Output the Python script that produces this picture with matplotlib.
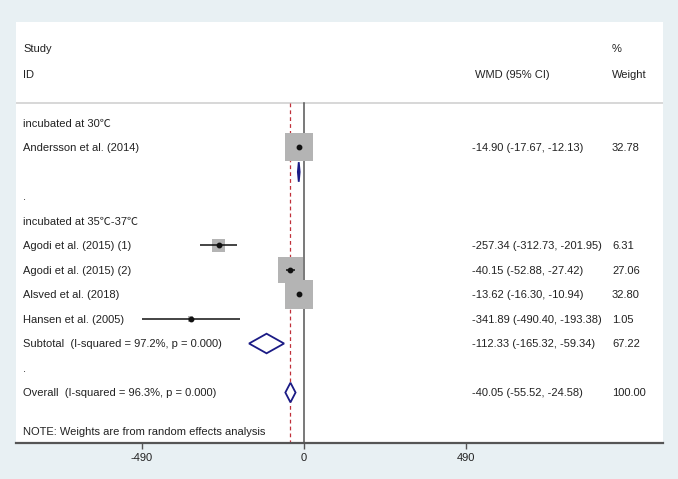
import matplotlib
matplotlib.use("Agg")
import matplotlib.pyplot as plt
import matplotlib.transforms as mtransforms
from matplotlib.patches import Polygon

plt.rcParams['font.family'] = ['Liberation Sans', 'Noto Sans CJK SC', 'DejaVu Sans']

# ---- data ----
group_labels = ["incubated at 30\u2103", "incubated at 35\u2103-37\u2103"]
studies = ["Andersson et al. (2014)", "Agodi et al. (2015) (1)", "Agodi et al. (2015) (2)",
           "Alsved et al. (2018)", "Hansen et al. (2005)"]
study_rows = [1, 5, 6, 7, 8]
wmd = [-14.90, -257.34, -40.15, -13.62, -341.89]
ci_lo = [-17.67, -312.73, -52.88, -16.30, -490.40]
ci_hi = [-12.13, -201.95, -27.42, -10.94, -193.38]
weights = [32.78, 6.31, 27.06, 32.80, 1.05]

# pooled estimates: subtotal 1, subtotal 2, overall
pooled_rows = [2, 9, 11]
pooled_est = [-14.90, -112.33, -40.05]
pooled_lo = [-17.67, -165.32, -55.52]
pooled_hi = [-12.13, -59.34, -24.58]
pooled_labels = ["", "Subtotal  (I-squared = 97.2%, p = 0.000)", "Overall  (I-squared = 96.3%, p = 0.000)"]
pooled_text = ["", "-112.33 (-165.32, -59.34)", "-40.05 (-55.52, -24.58)"]
pooled_weight = ["", "67.22", "100.00"]

overall_est = -40.05
xticks = [-490, 0, 490]

# ---- figure ----
W, H = 678, 479
fig = plt.figure(figsize=(W / 100, H / 100), dpi=100)
fig.patch.set_facecolor('#e8f0f3')
ax = fig.add_axes([16 / W, (H - 443) / H, 647 / W, 421 / H])
ax.set_facecolor('white')
ax.set_xlim(-870.2, 1086.8)
ax.set_ylim(13.06, -4.12)

for s in ['top', 'left', 'right']:
    ax.spines[s].set_visible(False)
ax.spines['bottom'].set_color('#555555')
ax.spines['bottom'].set_linewidth(1.6)
ax.set_yticks([])
ax.set_xticks(xticks)
ax.set_xticklabels([str(t) for t in xticks])
ax.tick_params(axis='x', length=4, width=1, color='#555555', pad=3.5,
               labelsize=8, labelcolor='#222222')

trans = mtransforms.blended_transform_factory(ax.transAxes, ax.transData)
tc = '#222222'
fs = 8
x_lab, x_wmd, x_wt = 0.0108, 0.7048, 0.9212
header_line_y = -0.816
dy = 0.04  # small downward nudge of text

# header
ax.text(x_lab, -3.06 + dy, "Study", transform=trans, fontsize=fs, color=tc, va='center')
ax.text(x_lab, -2.0 + dy, "ID", transform=trans, fontsize=fs, color=tc, va='center')
ax.text(x_wmd + 0.004, -2.0 + dy, "WMD (95% CI)", transform=trans, fontsize=fs, color=tc, va='center')
ax.text(x_wt, -3.06 + dy, "%", transform=trans, fontsize=fs, color=tc, va='center')
ax.text(x_wt, -2.0 + dy, "Weight", transform=trans, fontsize=fs, color=tc, va='center')
ax.axhline(header_line_y, color='#d4d4d4', lw=1.3, zorder=1)

# reference lines
ax.plot([0, 0], [header_line_y, 13.06], color='#555555', lw=1.1, zorder=2)
ax.plot([overall_est, overall_est], [header_line_y, 13.06], color='#c0303a', lw=0.9,
        dashes=(3, 2.5), zorder=2)

# group labels and blank dots
ax.text(x_lab, 0 + dy, group_labels[0], transform=trans, fontsize=fs, color=tc, va='center')
ax.text(x_lab, 4 + dy, group_labels[1], transform=trans, fontsize=fs, color=tc, va='center')
ax.text(x_lab, 3 + dy, ".", transform=trans, fontsize=fs, color=tc, va='center')
ax.text(x_lab, 10 + dy, ".", transform=trans, fontsize=fs, color=tc, va='center')

# studies
ax.scatter(wmd, study_rows, marker='s', s=[12.4 * w for w in weights],
           color='#b4b4b4', linewidths=0, zorder=3)
for r, e, lo, hi, w, name in zip(study_rows, wmd, ci_lo, ci_hi, weights, studies):
    ax.plot([lo, hi], [r, r], color='#111111', lw=1.1, zorder=4, solid_capstyle='butt')
    ax.plot([e], [r], 'o', color='#111111', ms=3.2, zorder=5)
    ax.text(x_lab, r + dy, name, transform=trans, fontsize=fs, color=tc, va='center')
    ax.text(x_wmd, r + dy, f"{e:.2f} ({lo:.2f}, {hi:.2f})", transform=trans, fontsize=fs,
            color=tc, va='center')
    ax.text(x_wt, r + dy, f"{w:.2f}", transform=trans, fontsize=fs, color=tc, va='center')

# pooled diamonds
dh = 0.4
for r, e, lo, hi, lab, txt, wt in zip(pooled_rows, pooled_est, pooled_lo, pooled_hi,
                                       pooled_labels, pooled_text, pooled_weight):
    poly = Polygon([[lo, r], [e, r - dh], [hi, r], [e, r + dh]], closed=True,
                   facecolor='white' if hi - lo > 10 else '#1b1b85',
                   edgecolor='#1b1b85', lw=1.3, zorder=6, joinstyle='miter')
    ax.add_patch(poly)
    if lab:
        ax.text(x_lab, r + dy, lab, transform=trans, fontsize=fs, color=tc, va='center')
        ax.text(x_wmd, r + dy, txt, transform=trans, fontsize=fs, color=tc, va='center')
        ax.text(x_wt, r + dy, wt, transform=trans, fontsize=fs, color=tc, va='center')

ax.text(x_lab, 12.57 + dy, "NOTE: Weights are from random effects analysis", transform=trans,
        fontsize=fs, color=tc, va='center')

fig.savefig("out.png", dpi=100, facecolor=fig.get_facecolor())
